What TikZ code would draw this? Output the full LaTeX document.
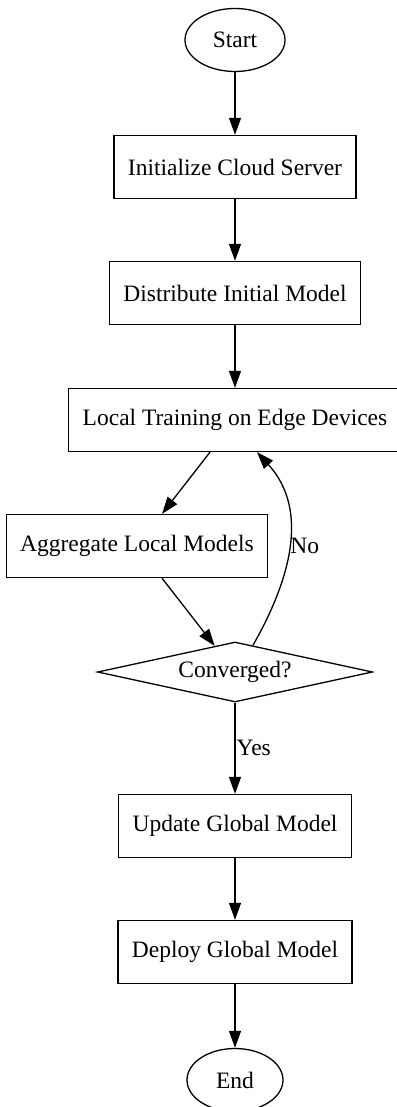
\documentclass[tikz,border=0pt]{standalone}
\usepackage{fontspec}
\setmainfont{Liberation Serif}
\usetikzlibrary{arrows.meta, positioning, shapes.geometric, calc}
\tikzset{->,>={Triangle[length=17pt,width=12pt]},
    node distance=126pt,
    every picture/.style={line width=1.3pt},
    every node/.style={font=\fontsize{23.5}{26}\selectfont},
    terminal/.style={ellipse,draw,minimum width=96pt,minimum height=63pt,inner sep=0pt},
    process/.style={rectangle,draw,minimum height=63pt,inner xsep=14pt},
    decision/.style={diamond,draw,aspect=4.6,minimum width=275pt,minimum height=60pt,inner sep=0pt},
    edgelabel/.style={inner sep=1pt}}

\begin{document}
\begin{tikzpicture}[x=1pt,y=1pt]
\useasboundingbox (0,0) rectangle (396,-1107);
\node[terminal,minimum width=100pt] (start) at (235,-40) {Start};
\node[process] (init)       [below of = start,node distance=127pt]      {Initialize Cloud Server};
\node[process] (distribute) [below of = init]                           {Distribute Initial Model};
\node[process] (local)      [below of = distribute,node distance=127pt] {Local Training on Edge Devices};
\node[process] (aggregate)  [below of = local,xshift=-98pt]             {Aggregate Local Models};
\node[decision] (converged) [below of = local,node distance=252pt]      {Converged?};
\node[process] (update)     [below of = converged,node distance=154pt]  {Update Global Model};
\node[process] (deploy)     [below of = update]                         {Deploy Global Model};
\node[terminal] (end)       [below of = deploy,node distance=128pt]     {End};
\draw (start) -- (init);
\draw (init) -- (distribute);
\draw (distribute) -- (local);
\draw (local) -- (aggregate);
\draw (aggregate) -- (converged);
% loop back when not converged
\draw ($(converged.north)!0.13!(converged.east)$) .. controls +(37,65) and +(53,-58) ..
    node[edgelabel,anchor=west] {No} ([xshift=22pt]local.south);
\draw (converged) -- node[edgelabel,anchor=west] {Yes} (update);
\draw (update) -- (deploy);
\draw (deploy) -- (end);
\end{tikzpicture}
\end{document}
